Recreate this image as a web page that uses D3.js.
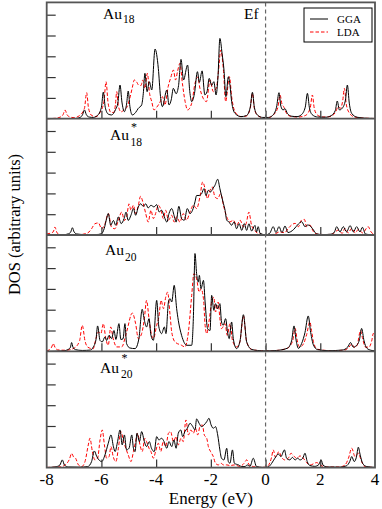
<!DOCTYPE html>
<html><head><meta charset="utf-8">
<script src="https://cdn.jsdelivr.net/npm/d3@7"></script>
<style>body{margin:0;background:#fff}svg{display:block}</style>
</head><body>
<svg id="c" width="382" height="509" font-family="'Liberation Serif','Times New Roman',Times,'DejaVu Serif',serif"></svg>
<script>
// ---- data (energy in eV, DOS in arbitrary units) ----
const xTicks = [-8,-6,-4,-2,0,2,4];
const seriesNames = ["GGA","LDA"];
const panelNames = [["Au","18",false],["Au","18",true],["Au","20",false],["Au","20",true]];

const au18_gga = [[-8,0],[-6.95,0.01],[-6.78,0.06],[-6.69,0.19],[-6.62,0.42],[-6.55,0.19],[-6.45,0.08],[-6.3,0.06],[-6.15,0.15],[-6.0,0.55],[-5.93,1.28],[-5.86,0.55],[-5.75,0.22],[-5.63,0.18],[-5.48,0.45],[-5.4,0.75],[-5.32,1.62],[-5.25,0.8],[-5.16,0.34],[-5.08,0.7],[-5.02,1.33],[-4.96,0.6],[-4.87,0.18],[-4.75,0.3],[-4.65,0.5],[-4.53,0.66],[-4.47,1.2],[-4.41,2.18],[-4.33,1.3],[-4.25,1.78],[-4.16,1.38],[-4.04,3.35],[-3.92,2.42],[-3.84,1.06],[-3.77,0.58],[-3.61,1.38],[-3.53,0.66],[-3.45,0.9],[-3.37,1.46],[-3.27,1.2],[-3.18,1.6],[-3.09,2.85],[-3.0,1.86],[-2.85,2.58],[-2.77,1.3],[-2.7,0.82],[-2.6,1.2],[-2.49,2.26],[-2.42,1.75],[-2.32,2.3],[-2.22,1.15],[-2.14,1.3],[-2.06,1.94],[-1.97,1.6],[-1.89,1.78],[-1.81,1.14],[-1.74,2.0],[-1.67,3.86],[-1.59,3.14],[-1.52,2.34],[-1.45,1.06],[-1.36,2.02],[-1.3,1.6],[-1.24,0.82],[-1.12,0.26],[-0.9,0.1],[-0.7,0.15],[-0.56,0.55],[-0.48,1.27],[-0.41,0.55],[-0.3,0.18],[-0.1,0.06],[0.1,0.06],[0.25,0.15],[0.4,0.55],[0.49,1.25],[0.56,0.6],[0.64,0.42],[0.71,0.48],[0.8,0.25],[0.95,0.12],[1.15,0.1],[1.3,0.18],[1.45,0.55],[1.53,1.22],[1.6,0.55],[1.7,0.2],[1.9,0.08],[2.2,0.07],[2.4,0.15],[2.55,0.4],[2.62,0.85],[2.7,0.42],[2.8,0.5],[2.92,0.9],[2.99,1.62],[3.06,0.75],[3.15,0.25],[3.35,0.07],[3.7,0.02],[4,0.01]];
const au18_lda = [[-8,0],[-7.7,0.02],[-7.5,0.08],[-7.4,0.2],[-7.33,0.42],[-7.26,0.2],[-7.15,0.08],[-7.0,0.05],[-6.8,0.15],[-6.62,0.5],[-6.54,1.25],[-6.47,0.5],[-6.35,0.15],[-6.2,0.1],[-6.05,0.3],[-5.91,0.8],[-5.83,1.78],[-5.76,0.8],[-5.65,0.3],[-5.55,0.3],[-5.49,0.65],[-5.44,1.3],[-5.38,0.6],[-5.28,0.33],[-5.18,0.42],[-5.05,0.6],[-4.95,1.05],[-4.87,1.5],[-4.8,1.86],[-4.72,1.78],[-4.64,1.62],[-4.55,1.6],[-4.49,1.86],[-4.41,1.46],[-4.32,2.18],[-4.24,1.22],[-4.16,0.82],[-4.08,0.42],[-3.98,0.55],[-3.85,0.82],[-3.77,1.06],[-3.68,0.66],[-3.56,1.54],[-3.46,2.0],[-3.37,2.34],[-3.29,1.86],[-3.22,2.26],[-3.13,2.66],[-3.04,1.7],[-2.94,0.82],[-2.85,0.42],[-2.7,0.74],[-2.58,1.7],[-2.48,2.0],[-2.4,1.46],[-2.28,0.98],[-2.16,0.82],[-2.03,1.86],[-1.91,1.3],[-1.79,1.54],[-1.72,2.3],[-1.64,3.3],[-1.54,2.34],[-1.46,0.82],[-1.32,2.02],[-1.24,1.06],[-1.12,0.34],[-0.9,0.1],[-0.7,0.13],[-0.56,0.5],[-0.48,1.22],[-0.41,0.5],[-0.3,0.17],[-0.1,0.05],[0.1,0.05],[0.3,0.2],[0.45,0.55],[0.53,1.14],[0.6,0.7],[0.66,0.58],[0.75,0.3],[0.9,0.12],[1.2,0.08],[1.45,0.15],[1.63,0.5],[1.71,1.14],[1.78,0.5],[1.9,0.17],[2.1,0.08],[2.35,0.1],[2.55,0.3],[2.66,0.58],[2.74,0.5],[2.82,0.87],[2.88,1.46],[2.95,0.7],[3.05,0.3],[3.25,0.08],[3.6,0.03],[4,0.01]];

const au18s_gga = [[-8,0],[-7.4,0.01],[-7.2,0.06],[-7.12,0.15],[-7.06,0.35],[-7.0,0.15],[-6.9,0.05],[-6.6,0.02],[-6.2,0.02],[-6.0,0.06],[-5.9,0.3],[-5.81,0.79],[-5.75,1.03],[-5.66,0.47],[-5.56,0.7],[-5.48,0.47],[-5.38,0.87],[-5.28,0.55],[-5.17,0.79],[-5.1,1.1],[-5.02,0.7],[-4.92,0.95],[-4.83,1.27],[-4.75,0.95],[-4.65,1.35],[-4.57,1.5],[-4.47,1.38],[-4.38,1.5],[-4.29,1.3],[-4.19,1.43],[-4.08,1.35],[-3.98,1.46],[-3.89,1.11],[-3.8,1.19],[-3.7,0.87],[-3.61,0.62],[-3.53,1.03],[-3.43,1.27],[-3.33,0.87],[-3.27,0.62],[-3.17,1.38],[-3.07,0.79],[-2.97,0.71],[-2.86,1.27],[-2.76,1.03],[-2.67,1.19],[-2.58,1.59],[-2.52,1.9],[-2.43,1.9],[-2.34,1.98],[-2.25,2.23],[-2.18,1.9],[-2.09,2.15],[-2.01,2.07],[-1.93,2.23],[-1.85,2.39],[-1.75,2.68],[-1.67,2.23],[-1.6,1.83],[-1.54,1.51],[-1.48,1.19],[-1.42,0.71],[-1.34,0.63],[-1.24,0.47],[-1.15,0.63],[-1.06,0.3],[-0.97,0.55],[-0.87,0.22],[-0.78,0.55],[-0.69,0.22],[-0.61,0.54],[-0.51,0.19],[-0.39,0.46],[-0.33,0.15],[-0.27,0.4],[-0.2,0.08],[0,0.01],[0.15,0.08],[0.28,0.4],[0.38,0.12],[0.49,0.4],[0.6,0.12],[0.71,0.43],[0.82,0.12],[0.92,0.16],[1.03,0.27],[1.2,0.53],[1.32,0.64],[1.44,0.4],[1.54,0.48],[1.66,0.4],[1.75,0.24],[1.87,0.05],[2.1,0.02],[2.4,0.04],[2.52,0.15],[2.6,0.4],[2.72,0.15],[2.84,0.4],[2.96,0.15],[3.09,0.45],[3.21,0.15],[3.33,0.4],[3.45,0.15],[3.54,0.37],[3.65,0.05],[3.8,0.02],[4,0.01]];
const au18s_lda = [[-8,0.05],[-7.76,0.15],[-7.7,0.38],[-7.62,0.1],[-7.5,0.02],[-6.8,0.02],[-6.5,0.1],[-6.36,0.3],[-6.24,0.54],[-6.11,0.58],[-5.99,0.3],[-5.87,0.54],[-5.75,1.03],[-5.63,0.38],[-5.51,0.3],[-5.38,0.7],[-5.26,1.1],[-5.16,0.7],[-5.08,0.87],[-4.99,1.5],[-4.92,1.19],[-4.83,1.43],[-4.75,1.03],[-4.65,1.43],[-4.57,1.86],[-4.47,1.51],[-4.38,1.03],[-4.29,0.62],[-4.19,1.19],[-4.1,0.79],[-4.02,1.03],[-3.92,1.43],[-3.82,1.19],[-3.74,0.79],[-3.65,1.19],[-3.55,0.71],[-3.43,0.95],[-3.34,0.62],[-3.25,0.87],[-3.13,0.62],[-3.01,1.03],[-2.89,0.71],[-2.76,1.11],[-2.64,1.43],[-2.52,1.27],[-2.4,1.83],[-2.3,2.55],[-2.21,2.23],[-2.12,1.75],[-2.03,2.15],[-1.95,2.31],[-1.85,1.83],[-1.75,1.75],[-1.64,1.99],[-1.54,1.43],[-1.42,0.87],[-1.3,0.63],[-1.18,0.71],[-1.06,0.47],[-0.93,0.71],[-0.81,0.39],[-0.71,0.55],[-0.61,1.1],[-0.51,0.46],[-0.39,0.22],[-0.27,0.06],[-0.1,0.02],[0,0.01],[0.3,0.03],[0.52,0.15],[0.7,0.11],[0.83,0.32],[0.95,0.48],[1.08,0.56],[1.2,0.4],[1.32,0.72],[1.42,0.75],[1.5,0.4],[1.62,0.48],[1.75,0.16],[1.87,0.05],[2.2,0.02],[2.45,0.05],[2.66,0.24],[2.8,0.08],[2.9,0.32],[3.02,0.1],[3.15,0.32],[3.28,0.1],[3.39,0.27],[3.55,0.1],[3.75,0.4],[3.85,0.16],[3.95,0.05],[4,0.1]];

const au20_gga = [[-8,0],[-7.4,0.02],[-7.2,0.1],[-7.13,0.2],[-7.09,0.42],[-7.04,0.2],[-6.95,0.08],[-6.7,0.04],[-6.4,0.06],[-6.3,0.2],[-6.2,0.55],[-6.14,1.22],[-6.05,0.52],[-5.97,0.45],[-5.87,0.69],[-5.81,0.52],[-5.72,0.77],[-5.63,0.61],[-5.54,1.0],[-5.47,0.57],[-5.36,1.33],[-5.29,0.57],[-5.21,0.6],[-5.14,1.33],[-5.08,0.37],[-4.96,0.16],[-4.77,0.13],[-4.63,0.61],[-4.51,2.02],[-4.43,1.49],[-4.35,1.17],[-4.26,1.57],[-4.19,0.77],[-4.1,0.53],[-3.98,2.45],[-3.9,1.17],[-3.8,0.85],[-3.7,1.17],[-3.64,0.85],[-3.55,2.37],[-3.49,2.53],[-3.43,2.37],[-3.34,3.17],[-3.25,2.05],[-3.19,1.49],[-3.07,0.77],[-2.88,0.29],[-2.7,0.29],[-2.64,1.57],[-2.58,4.7],[-2.52,3.73],[-2.46,3.33],[-2.42,3.65],[-2.36,3.01],[-2.27,3.41],[-2.21,2.37],[-2.12,1.09],[-2.03,1.0],[-1.97,2.69],[-1.89,1.97],[-1.83,2.29],[-1.75,2.05],[-1.67,2.29],[-1.61,1.41],[-1.55,1.25],[-1.46,1.57],[-1.39,0.93],[-1.33,0.61],[-1.24,1.41],[-1.18,0.61],[-1.06,0.13],[-0.94,0.45],[-0.81,1.76],[-0.69,0.45],[-0.51,0.09],[-0.3,0.04],[0,0.02],[0.4,0.04],[0.8,0.15],[0.95,0.5],[1.04,1.22],[1.12,0.5],[1.2,0.14],[1.32,0.38],[1.44,0.9],[1.56,1.7],[1.65,0.9],[1.75,0.3],[1.9,0.08],[2.3,0.03],[2.8,0.06],[3.0,0.2],[3.11,0.42],[3.2,0.2],[3.3,0.25],[3.43,0.55],[3.51,1.1],[3.6,0.5],[3.7,0.15],[3.85,0.05],[4,0.02]];
const au20_lda = [[-8,0.02],[-7.9,0.08],[-7.82,0.2],[-7.76,0.37],[-7.7,0.2],[-7.6,0.07],[-7.3,0.05],[-7.0,0.15],[-6.8,0.5],[-6.7,1.25],[-6.6,0.5],[-6.5,0.2],[-6.3,0.12],[-6.23,0.45],[-6.11,0.93],[-6.02,0.85],[-5.93,1.33],[-5.84,0.61],[-5.75,0.29],[-5.66,1.17],[-5.57,0.61],[-5.44,0.21],[-5.26,0.21],[-5.08,0.93],[-4.87,1.84],[-4.75,1.33],[-4.65,0.61],[-4.53,0.85],[-4.43,1.57],[-4.35,2.45],[-4.26,1.57],[-4.19,0.93],[-4.1,0.61],[-3.98,1.25],[-3.9,1.65],[-3.82,2.45],[-3.73,2.05],[-3.65,2.6],[-3.58,2.85],[-3.49,1.73],[-3.43,0.93],[-3.31,0.45],[-3.07,0.29],[-2.95,0.21],[-2.82,0.93],[-2.7,2.69],[-2.62,3.73],[-2.52,3.49],[-2.43,2.85],[-2.36,3.01],[-2.27,2.53],[-2.21,1.25],[-2.15,0.85],[-2.07,1.41],[-1.97,2.37],[-1.89,2.6],[-1.83,1.89],[-1.73,2.37],[-1.67,1.57],[-1.61,1.09],[-1.48,1.33],[-1.4,0.77],[-1.3,1.33],[-1.21,0.53],[-1.06,0.21],[-0.94,0.45],[-0.81,1.7],[-0.69,0.45],[-0.51,0.09],[-0.3,0.04],[0,0.02],[0.4,0.04],[0.8,0.15],[0.99,0.5],[1.08,1.1],[1.16,0.5],[1.25,0.2],[1.38,0.35],[1.5,0.8],[1.62,1.42],[1.68,1.0],[1.76,0.4],[1.9,0.1],[2.4,0.03],[2.9,0.06],[3.05,0.2],[3.15,0.35],[3.25,0.18],[3.35,0.3],[3.47,1.0],[3.55,0.6],[3.65,0.2],[3.78,0.2],[3.88,0.5],[3.94,0.86],[4,0.55]];

const au20s_gga = [[-8,0],[-7.7,0.03],[-7.52,0.12],[-7.43,0.37],[-7.35,0.12],[-7.2,0.03],[-6.8,0.02],[-6.5,0.05],[-6.36,0.29],[-6.26,0.8],[-6.17,0.53],[-6.09,0.37],[-5.99,0.29],[-5.87,0.61],[-5.75,1.17],[-5.65,1.57],[-5.56,1.0],[-5.5,0.77],[-5.41,1.25],[-5.32,1.81],[-5.24,1.09],[-5.16,1.57],[-5.08,0.85],[-4.99,0.93],[-4.89,1.57],[-4.83,0.93],[-4.77,0.77],[-4.7,1.65],[-4.61,1.25],[-4.53,1.73],[-4.43,1.25],[-4.35,1.01],[-4.25,1.25],[-4.17,0.93],[-4.07,0.77],[-3.98,1.49],[-3.9,1.33],[-3.8,1.41],[-3.71,1.25],[-3.61,0.93],[-3.53,1.25],[-3.43,1.01],[-3.35,1.33],[-3.27,0.93],[-3.19,1.65],[-3.1,1.81],[-3.03,1.49],[-2.95,1.73],[-2.86,1.89],[-2.76,2.13],[-2.66,1.97],[-2.58,1.81],[-2.52,2.34],[-2.43,2.13],[-2.34,1.97],[-2.25,2.05],[-2.15,2.21],[-2.07,2.37],[-1.99,2.05],[-1.91,1.89],[-1.83,1.97],[-1.75,1.57],[-1.67,0.85],[-1.61,0.45],[-1.52,0.37],[-1.42,0.93],[-1.36,0.29],[-1.3,0.21],[-1.21,0.85],[-1.14,0.21],[-0.99,0.13],[-0.87,0.05],[-0.75,0.05],[-0.67,0.13],[-0.57,0.06],[-0.45,0.45],[-0.33,0.05],[-0.1,0.01],[0,0.01],[0.12,0.05],[0.22,0.2],[0.34,0.45],[0.47,0.65],[0.56,0.53],[0.69,0.85],[0.77,0.45],[0.89,0.37],[0.98,0.49],[1.08,0.37],[1.17,0.45],[1.26,0.37],[1.36,0.45],[1.44,0.69],[1.52,0.3],[1.62,0.1],[1.8,0.06],[1.95,0.15],[2.03,0.37],[2.1,0.12],[2.25,0.03],[2.7,0.02],[2.95,0.08],[3.08,0.3],[3.15,0.53],[3.24,0.29],[3.32,0.5],[3.39,0.98],[3.46,0.6],[3.55,0.2],[3.7,0.05],[4,0.01]];
const au20s_lda = [[-8,0.01],[-7.5,0.04],[-7.3,0.15],[-7.17,0.4],[-7.09,0.68],[-7.02,0.52],[-6.94,0.44],[-6.84,0.13],[-6.72,0.05],[-6.6,0.29],[-6.48,1.09],[-6.42,1.41],[-6.33,0.77],[-6.24,0.37],[-6.14,0.45],[-6.05,1.33],[-5.97,1.81],[-5.89,1.09],[-5.81,0.45],[-5.72,0.53],[-5.65,1.01],[-5.57,0.53],[-5.47,0.29],[-5.38,0.93],[-5.29,1.73],[-5.2,1.33],[-5.11,0.93],[-5.02,0.61],[-4.92,0.29],[-4.83,0.77],[-4.75,1.25],[-4.68,1.65],[-4.59,1.09],[-4.51,0.77],[-4.41,1.41],[-4.35,1.25],[-4.26,0.93],[-4.19,0.77],[-4.1,0.45],[-4.02,0.77],[-3.92,1.17],[-3.83,0.77],[-3.74,1.25],[-3.65,1.01],[-3.55,1.65],[-3.47,1.73],[-3.37,1.25],[-3.27,1.49],[-3.19,1.09],[-3.09,1.41],[-3.01,1.25],[-2.91,2.29],[-2.82,1.57],[-2.73,1.81],[-2.64,1.65],[-2.56,1.89],[-2.48,1.57],[-2.4,1.97],[-2.31,2.05],[-2.24,1.57],[-2.15,1.41],[-2.09,1.01],[-2.01,0.77],[-1.91,0.53],[-1.83,0.21],[-1.73,0.13],[-1.63,0.21],[-1.54,0.13],[-1.42,0.13],[-1.3,0.1],[-1.12,0.13],[-0.94,0.05],[-0.79,0.2],[-0.69,0.37],[-0.6,0.13],[-0.45,0.05],[-0.2,0.01],[0,0.02],[0.1,0.1],[0.22,0.5],[0.28,0.85],[0.36,0.5],[0.49,0.77],[0.57,0.53],[0.71,0.37],[0.83,0.45],[0.93,0.69],[1.05,0.53],[1.14,0.45],[1.26,0.56],[1.38,0.45],[1.5,0.24],[1.62,0.12],[1.87,0.24],[2.0,0.12],[2.2,0.03],[2.7,0.03],[2.9,0.12],[3.03,0.45],[3.15,0.93],[3.27,0.53],[3.39,0.69],[3.51,0.29],[3.63,0.04],[4,0.01]];

const panels = [[au18_gga, au18_lda],[au18s_gga, au18s_lda],[au20_gga, au20_lda],[au20s_gga, au20s_lda]];

// ---- layout ----
const svg = d3.select("#c");
const L = 46.7, R = 375, T = 2.4, PH = 116.3;
const x = d3.scaleLinear().domain([-8,4]).range([L,R]);
const yMax = PH/20.8;
const colors = ["#000000","#ff0000"];
const dashes = [null,"3.5,2"];

svg.append("defs").append("clipPath").attr("id","clipAll")
  .append("rect").attr("x",L).attr("y",T).attr("width",R-L).attr("height",PH*4);

panels.forEach((series,i)=>{
  const top = T + i*PH, base = top + PH;
  const y = d3.scaleLinear().domain([0,yMax]).range([base,top]);
  const g = svg.append("g");
  const line = d3.line().x(d=>x(d[0])).y(d=>y(d[1])).curve(d3.curveMonotoneX);
  [1,0].forEach(k=>{
    g.append("path").datum(series[k]).attr("d",line)
      .attr("fill","none").attr("stroke",colors[k]).attr("stroke-width",1)
      .attr("stroke-dasharray",dashes[k]).attr("clip-path","url(#clipAll)");
  });
  const ya = g.append("g").attr("transform",`translate(${L},0)`)
    .call(d3.axisLeft(y).tickValues([1,2,3,4,5]).tickSize(-9).tickFormat(""));
  ya.select(".domain").remove();
  ya.selectAll("line").attr("stroke","#333").attr("stroke-width",1.2);
  const xa = g.append("g").attr("transform",`translate(0,${base})`)
    .call(d3.axisBottom(x).tickValues([-6,-4,-2,0,2]).tickSize(-8).tickFormat(""));
  xa.select(".domain").remove();
  xa.selectAll("line").attr("stroke","#333").attr("stroke-width",1.2);
  if(i<3){
    svg.append("line").attr("x1",L).attr("x2",R).attr("y1",base).attr("y2",base)
      .attr("stroke","#555").attr("stroke-width",1.8);
  }
});

// Fermi level
svg.append("line").attr("x1",x(0)).attr("x2",x(0)).attr("y1",T).attr("y2",T+4*PH)
  .attr("stroke","#666").attr("stroke-width",1.2).attr("stroke-dasharray","4,3");

// frame
svg.append("rect").attr("x",L).attr("y",T).attr("width",R-L).attr("height",4*PH)
  .attr("fill","none").attr("stroke","#555").attr("stroke-width",1.8);

// x tick labels
svg.append("g").selectAll("text").data(xTicks).join("text")
  .attr("x",d=>x(d)).attr("y",485).attr("text-anchor","middle")
  .attr("font-size",17).text(d=>String(d));

svg.append("text").attr("x",(L+R)/2).attr("y",503.5).attr("text-anchor","middle")
  .attr("font-size",17).text("Energy (eV)");
svg.append("text").attr("transform","translate(20,224.5) rotate(-90)").attr("text-anchor","middle")
  .attr("font-size",16.5).text("DOS (arbitrary units)");

// panel labels
const labPos = [[103,18.5,123,23,0,0],[110,140,130.5,145.5,131,130.5],[105,255,125,261,0,0],[100,373,121,378,121.5,362]];
panelNames.forEach((p,i)=>{
  const [ax,ay,sx,sy,stx,sty] = labPos[i];
  svg.append("text").attr("x",ax).attr("y",ay).attr("font-size",15.5).text(p[0]);
  svg.append("text").attr("x",sx).attr("y",sy).attr("font-size",11.5).text(p[1]);
  if(p[2]) svg.append("text").attr("x",stx).attr("y",sty).attr("font-size",12).text("*");
});
svg.append("text").attr("x",244).attr("y",18.5).attr("font-size",15.5).text("Ef");

// legend
const lg = svg.append("g");
lg.append("rect").attr("x",304).attr("y",8).attr("width",68).attr("height",34)
  .attr("fill","#fff").attr("stroke","#000").attr("stroke-width",1);
seriesNames.forEach((n,k)=>{
  const yy = 19 + k*13;
  lg.append("line").attr("x1",310).attr("x2",328).attr("y1",yy).attr("y2",yy)
    .attr("stroke",colors[k]).attr("stroke-width",1).attr("stroke-dasharray",dashes[k]);
  lg.append("text").attr("x",337).attr("y",yy+4).attr("font-size",11).text(n);
});
</script>
</body></html>
